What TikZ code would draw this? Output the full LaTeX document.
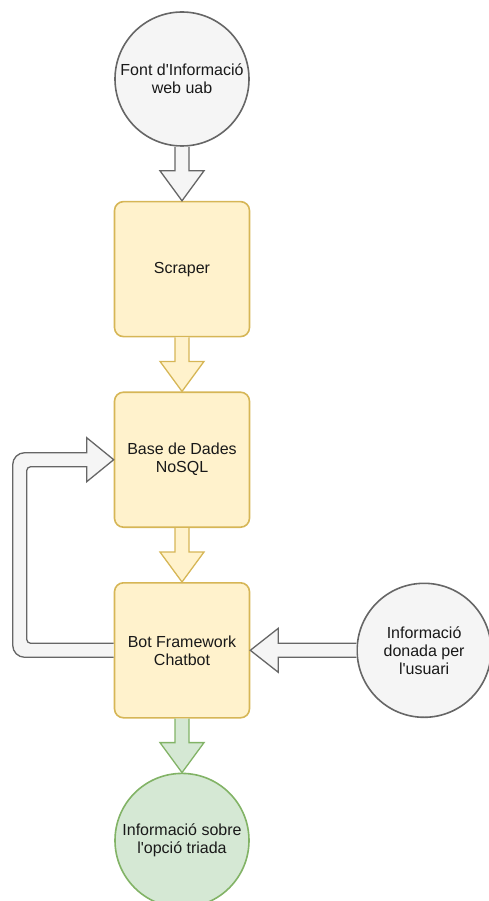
\documentclass[tikz,border=0pt]{standalone}
\usepackage{fontspec}
\setmainfont{Liberation Sans}[Ligatures=TeXOff]
\usetikzlibrary{positioning,calc}

\definecolor{boxfill}{HTML}{FFF2CC}
\definecolor{boxline}{HTML}{D6B656}
\definecolor{greyfill}{HTML}{F5F5F5}
\definecolor{greyline}{HTML}{666666}
\definecolor{greenfill}{HTML}{D5E8D4}
\definecolor{greenline}{HTML}{82B366}

% fat arrow going down from #2 to the tip #3
\newcommand\fatdown[3]{%
  \draw[#1] ($(#2)+(-7,0)$) -- ($(#3)+(-7,30)$) -- ($(#3)+(-22,30)$) -- (#3)
    -- ($(#3)+(22,30)$) -- ($(#3)+(7,30)$) -- ($(#2)+(7,0)$);}
% fat arrow going left from #2 to the tip #3
\newcommand\fatleft[3]{%
  \draw[#1] ($(#2)+(0,7)$) -- ($(#3)+(28,7)$) -- ($(#3)+(28,22)$) -- (#3)
    -- ($(#3)+(28,-22)$) -- ($(#3)+(28,-7)$) -- ($(#2)+(0,-7)$);}

\begin{document}
\begin{tikzpicture}[x=1pt,y=1pt,node distance=54pt,
    font=\fontsize{16}{18}\selectfont,
    source/.style={circle,draw=greyline,fill=greyfill,line width=1.6pt,minimum size=134pt,inner sep=0pt,align=center,text=black!90},
    stage/.style={rectangle,rounded corners=9pt,draw=boxline,fill=boxfill,line width=1.6pt,minimum width=135pt,minimum height=135pt,align=center,text=black!90},
    result/.style={source,draw=greenline,fill=greenfill},
    greyarrow/.style={draw=greyline,fill=greyfill,line width=1.3pt,line join=miter},
    yellowarrow/.style={greyarrow,draw=boxline,fill=boxfill},
    greenarrow/.style={greyarrow,draw=greenline,fill=greenfill}
    ]
    \useasboundingbox (0,0) rectangle (488,-901);

    \node[source] (web) at (182,-79) {Font d'Informació\\web uab};
    \node[stage,below=of web] (scraper) {Scraper};
    \node[stage,below=of scraper] (db) {Base de Dades\\NoSQL};
    \node[stage,below=of db] (bot) {Bot Framework\\Chatbot};
    \node[result,below=of bot] (answer) {Informació sobre\\l'opció triada};
    \node[source,right=106pt of bot] (user) {Informació\\donada per\\l'usuari};

    \fatdown{greyarrow}{web.south}{scraper.north}
    \fatdown{yellowarrow}{scraper.south}{db.north}
    \fatdown{yellowarrow}{db.south}{bot.north}
    \fatdown{greenarrow}{bot.south}{answer.north}
    \fatleft{greyarrow}{user.west}{bot.east}

    % chatbot feeds back into the database
    \draw[greyarrow] ($(bot.west)+(0,7)$) [rounded corners=4pt] -- ($(bot.west)+(-87,7)$)
      -- ($(db.west)+(-87,-7)$) [sharp corners] -- ($(db.west)+(-27,-7)$)
      -- ($(db.west)+(-27,-22)$) -- (db.west) -- ($(db.west)+(-27,22)$)
      -- ($(db.west)+(-27,7)$) [rounded corners=12pt] -- ($(db.west)+(-101,7)$)
      -- ($(bot.west)+(-101,-7)$) [sharp corners] -- ($(bot.west)+(0,-7)$);

\end{tikzpicture}
\end{document}
